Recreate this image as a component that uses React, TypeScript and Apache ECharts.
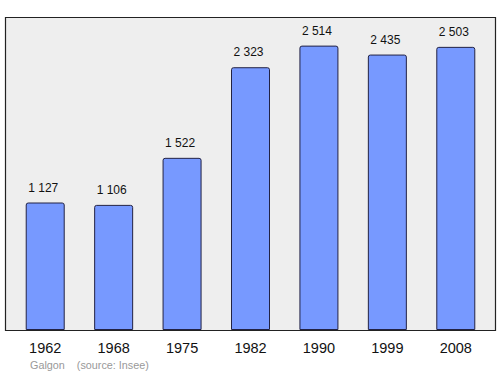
import React, { useEffect, useRef } from "react";
import * as echarts from "echarts";

const years = ["1962", "1968", "1975", "1982", "1990", "1999", "2008"];
const population = [1127, 1106, 1522, 2323, 2514, 2435, 2503];
const valueLabels = ["1 127", "1 106", "1 522", "2 323", "2 514", "2 435", "2 503"];
const footer = "Galgon    (source: Insee)";

export default function App() {
  const ref = useRef<HTMLDivElement>(null);
  useEffect(() => {
    const chart = echarts.init(ref.current!, null, { renderer: "svg" });
    chart.setOption({
      animation: false,
      backgroundColor: "#ffffff",
      textStyle: { fontFamily: "Liberation Sans, Arial, sans-serif" },
      graphic: [
        {
          type: "rect",
          z: -10,
          shape: { x: 5.5, y: 17.5, width: 490, height: 313 },
          style: { fill: "#eeeeee", stroke: "#222222", lineWidth: 1.2 },
          silent: true,
        },
        {
          type: "text",
          x: 30,
          y: 359,
          style: {
            text: footer,
            fill: "#999999",
            fontSize: 10.8,
            fontFamily: "Liberation Sans, Arial, sans-serif",
          },
        },
      ],
      grid: { left: 11, right: 10, top: 17, bottom: 44, containLabel: false },
      xAxis: {
        type: "category",
        data: years,
        axisLine: { show: false },
        axisTick: { show: false },
        axisLabel: { fontSize: 14.5, color: "#111111", margin: 10 },
      },
      yAxis: {
        type: "value",
        min: 0,
        max: 2767,
        show: false,
        splitLine: { show: false },
      },
      series: [
        {
          type: "bar",
          data: population,
          barWidth: 39,
          itemStyle: {
            color: "#7799ff",
            borderColor: "#222244",
            borderWidth: 1,
            borderRadius: [2, 2, 0, 0],
          },
          label: {
            show: true,
            position: "top",
            distance: 9,
            fontSize: 12,
            color: "#111111",
            offset: [-2, 0],
            formatter: (p: any) => valueLabels[p.dataIndex],
          },
        },
      ],
    });
    return () => chart.dispose();
  }, []);
  return <div ref={ref} style={{ width: 500, height: 374, position: "absolute", left: 0, top: 0 }} />;
}
